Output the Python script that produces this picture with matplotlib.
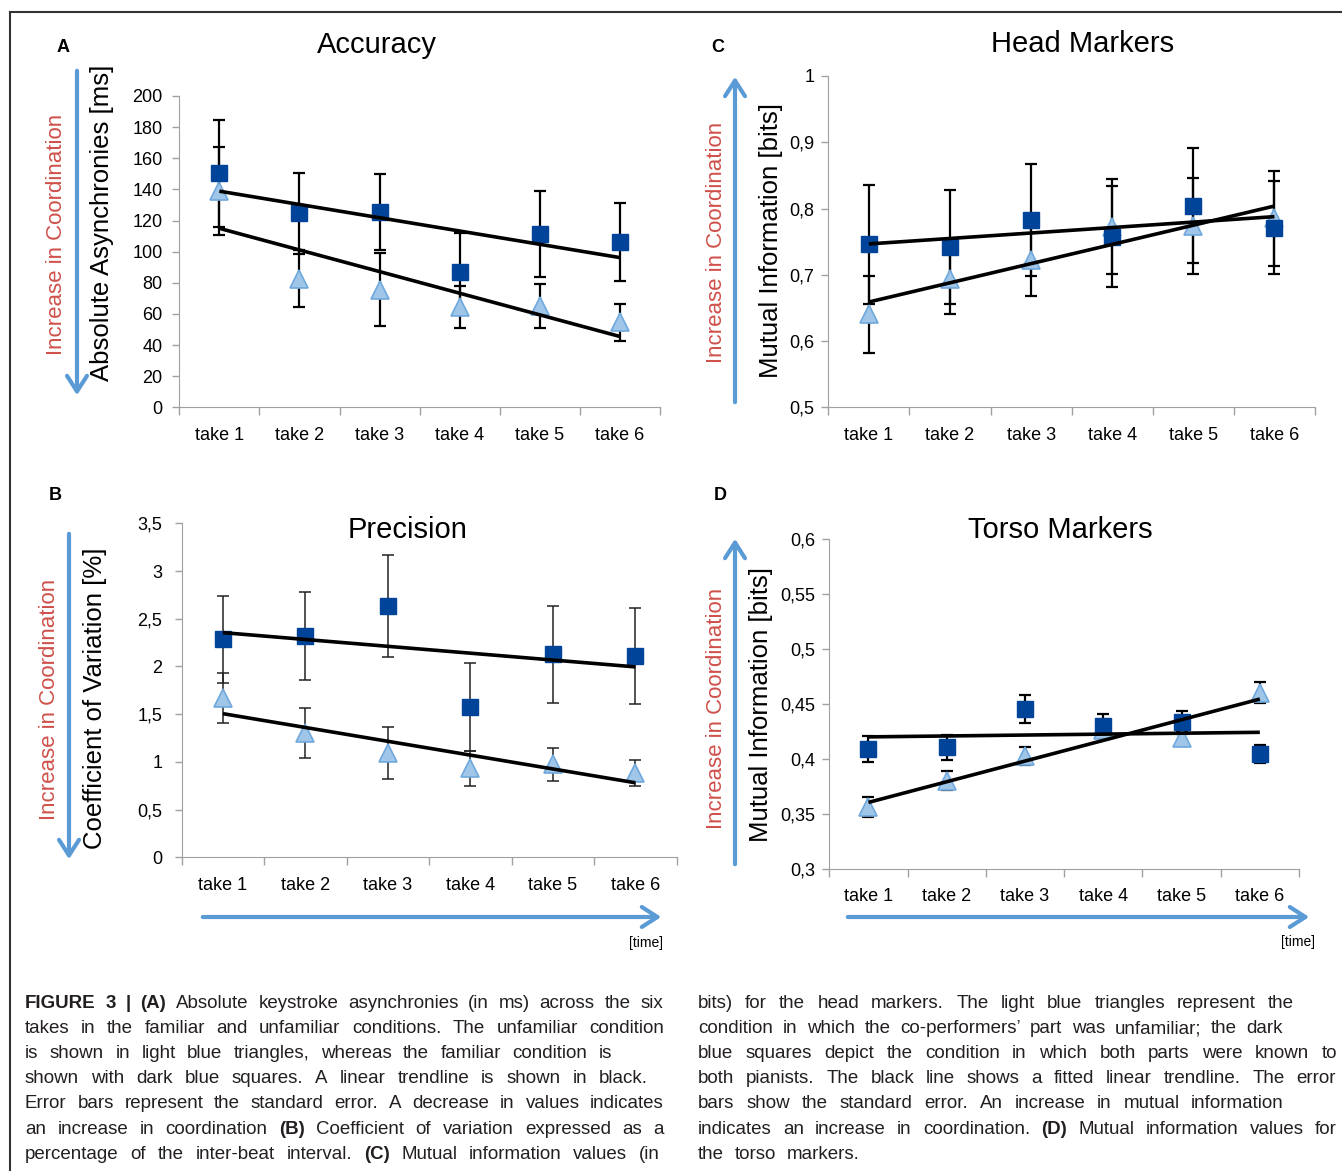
import numpy as np
import matplotlib
matplotlib.use('Agg')
import matplotlib.pyplot as plt
from matplotlib import font_manager
from matplotlib.lines import Line2D
from matplotlib.patches import FancyArrowPatch
from matplotlib.ticker import FuncFormatter

plt.rcParams['font.family'] = ['Liberation Sans', 'DejaVu Sans']

W, H = 1342, 1171

# ---- data ----
takes = ['take 1', 'take 2', 'take 3', 'take 4', 'take 5', 'take 6']

# A: absolute asynchronies [ms]
acc_fam = [150.4, 124.7, 125.4, 86.9, 111.3, 106.4]
acc_fam_err = [34.5, 26.0, 24.6, 25.0, 27.6, 25.0]
acc_unf = [139.0, 82.7, 75.6, 64.5, 65.1, 54.5]
acc_unf_err = [28.5, 18.5, 23.5, 13.7, 14.2, 11.7]

# B: coefficient of variation [%]
prec_fam = [2.285, 2.32, 2.634, 1.572, 2.128, 2.11]
prec_fam_err = [0.457, 0.458, 0.535, 0.46, 0.506, 0.507]
prec_unf = [1.67, 1.303, 1.092, 0.934, 0.974, 0.885]
prec_unf_err = [0.265, 0.265, 0.271, 0.183, 0.175, 0.135]

# C: mutual information, head markers [bits]
head_fam = [0.746, 0.7415, 0.7827, 0.7575, 0.8043, 0.771]
head_fam_err = [0.0895, 0.086, 0.084, 0.0765, 0.087, 0.070]
head_unf = [0.6405, 0.6936, 0.7223, 0.7726, 0.774, 0.785]
head_unf_err = [0.058, 0.053, 0.055, 0.072, 0.0725, 0.072]

# D: mutual information, torso markers [bits]
torso_fam = [0.4092, 0.4107, 0.4456, 0.4304, 0.4335, 0.4044]
torso_fam_err = [0.012, 0.0115, 0.0124, 0.0106, 0.0106, 0.008]
torso_unf = [0.3567, 0.3803, 0.4028, 0.4265, 0.419, 0.4604]
torso_unf_err = [0.009, 0.0086, 0.0082, 0.006, 0.0068, 0.0095]

# colours
SQ = '#00449a'
TRI_FACE = '#9fc5e8'
TRI_EDGE = '#6fa8dc'
ARROW = '#5b9bd5'
RED = '#cf504a'
SPINE = '#a0a0a0'

fig = plt.figure(figsize=(W / 100, H / 100), dpi=100)


def px(x, y):
    return x / W, 1 - y / H


def add_axes(l, t, r, b):
    return fig.add_axes([l / W, 1 - b / H, (r - l) / W, (b - t) / H])


def comma(v, pos):
    return ('%g' % round(v, 4)).replace('.', ',')


def panel(ax, fam, fam_err, unf, unf_err, ylim, ystep, err_lw, err_col, ms_sq, ms_tri, ypad):
    x = np.arange(1, 7)
    ax.errorbar(x, unf, yerr=unf_err, fmt='none', ecolor=err_col, elinewidth=err_lw,
                capsize=4, capthick=err_lw, zorder=2)
    ax.errorbar(x, fam, yerr=fam_err, fmt='none', ecolor=err_col, elinewidth=err_lw,
                capsize=4, capthick=err_lw, zorder=2)
    ax.plot(x, unf, ls='none', marker='^', ms=ms_tri, mfc=TRI_FACE, mec=TRI_EDGE, mew=1.2, zorder=3)
    ax.plot(x, fam, ls='none', marker='s', ms=ms_sq, mfc=SQ, mec=SQ, zorder=4)
    # linear trendlines
    for y in (fam, unf):
        k, c = np.polyfit(x, y, 1)
        ax.plot([1, 6], [k + c, 6 * k + c], color='black', lw=2.6, zorder=5, solid_capstyle='butt')
    ax.set_xlim(0.5, 6.5)
    ax.set_ylim(*ylim)
    ax.set_yticks(np.arange(ylim[0], ylim[1] + ystep / 2, ystep))
    ax.yaxis.set_major_formatter(FuncFormatter(comma))
    ax.set_xticks(np.arange(0.5, 7, 1))
    ax.set_xticklabels([])
    ax.set_xticks(x, minor=True)
    ax.set_xticklabels(takes, minor=True)
    ax.tick_params(axis='x', which='major', length=6, color=SPINE, width=1)
    ax.tick_params(axis='x', which='minor', length=0, pad=14, labelsize=13)
    ax.tick_params(axis='y', length=5, color=SPINE, width=1, pad=ypad, labelsize=13)
    for s in ('top', 'right'):
        ax.spines[s].set_visible(False)
    for s in ('left', 'bottom'):
        ax.spines[s].set_color(SPINE)
    ax.patch.set_alpha(0)


def arrow(x0, y0, x1, y1):
    fig.add_artist(FancyArrowPatch(px(x0, y0), px(x1, y1), transform=fig.transFigure,
                                   arrowstyle='->,head_length=0.7,head_width=0.45',
                                   mutation_scale=16, lw=3, color=ARROW))


def vtext(x, y, s, **kw):
    fig.text(*px(x, y), s, rotation=90, ha='center', va='center', **kw)


# ---- panel A ----
axA = add_axes(179.3, 96, 660, 407.3)
panel(axA, acc_fam, acc_fam_err, acc_unf, acc_unf_err, (0, 200), 20, 1.6, 'black', 11, 13, 7)
fig.text(*px(377, 45), 'Accuracy', ha='center', va='center', fontsize=21)
fig.text(*px(63, 48), 'A', ha='center', va='center', fontsize=13, fontweight='bold')
vtext(102, 223, 'Absolute Asynchronies [ms]', fontsize=18.5)
vtext(57, 234, 'Increase in Coordination', fontsize=16, color=RED)
arrow(77, 68, 77, 398)

# ---- panel B ----
axB = add_axes(181.7, 523.3, 676.7, 857.3)
panel(axB, prec_fam, prec_fam_err, prec_unf, prec_unf_err, (0, 3.5), 0.5, 1.1, '#222222', 11, 13, 9)
fig.text(*px(408, 530), 'Precision', ha='center', va='center', fontsize=21)
fig.text(*px(55, 495), 'B', ha='center', va='center', fontsize=13, fontweight='bold')
vtext(95, 698, 'Coefficient of Variation [%]', fontsize=18.5)
vtext(50, 699, 'Increase in Coordination', fontsize=16, color=RED)
arrow(69, 531, 69, 862)
arrow(200, 917, 664, 917)
fig.text(*px(663, 943), '[time]', ha='right', va='center', fontsize=10)

# ---- panel C ----
axC = add_axes(828.3, 76, 1315, 407.3)
panel(axC, head_fam, head_fam_err, head_unf, head_unf_err, (0.5, 1.0), 0.1, 1.6, 'black', 11, 13, 5)
fig.text(*px(1083, 44), 'Head Markers', ha='center', va='center', fontsize=21)
fig.text(*px(718, 48), 'C', ha='center', va='center', fontsize=13, fontweight='bold')
vtext(771, 241, 'Mutual Information [bits]', fontsize=18.5)
vtext(716, 242, 'Increase in Coordination', fontsize=16, color=RED)
arrow(735, 405, 735, 74)

# ---- panel D ----
axD = add_axes(829.3, 539.3, 1299, 869)
panel(axD, torso_fam, torso_fam_err, torso_unf, torso_unf_err, (0.3, 0.6), 0.05, 1.6, 'black', 11, 13, 5)
fig.text(*px(1060, 530), 'Torso Markers', ha='center', va='center', fontsize=21)
fig.text(*px(720, 495), 'D', ha='center', va='center', fontsize=13, fontweight='bold')
vtext(761, 704, 'Mutual Information [bits]', fontsize=18.5)
vtext(716, 708, 'Increase in Coordination', fontsize=16, color=RED)
arrow(735, 867, 735, 536)
arrow(845, 917, 1312, 917)
fig.text(*px(1315, 942), '[time]', ha='right', va='center', fontsize=10)

# ---- frame ----
fig.add_artist(Line2D([10 / W, 1], [1 - 12 / H] * 2, transform=fig.transFigure, color='#333333', lw=1.5))
fig.add_artist(Line2D([10 / W] * 2, [0, 1 - 12 / H], transform=fig.transFigure, color='#333333', lw=1.5))

# ---- caption (justified lines) ----
names = {f.name for f in font_manager.fontManager.ttflist}
cap_font = 'Liberation Sans Narrow' if 'Liberation Sans Narrow' in names else 'Liberation Sans'
cap_size = 15.5 if cap_font == 'Liberation Sans Narrow' else 13.5

left_lines = [
    ("**FIGURE 3 | (A)** Absolute keystroke asynchronies (in ms) across the six", 663),
    ("takes in the familiar and unfamiliar conditions. The unfamiliar condition", 664),
    ("is shown in light blue triangles, whereas the familiar condition is", 612),
    ("shown with dark blue squares. A linear trendline is shown in black.", 648),
    ("Error bars represent the standard error. A decrease in values indicates", 664),
    ("an increase in coordination **(B)** Coefficient of variation expressed as a", 664),
    ("percentage of the inter-beat interval. **(C)** Mutual information values (in", 660),
]
right_lines = [
    ("bits) for the head markers. The light blue triangles represent the", 1294),
    ("condition in which the co-performers\u2019 part was unfamiliar; the dark", 1283),
    ("blue squares depict the condition in which both parts were known to", 1337),
    ("both pianists. The black line shows a fitted linear trendline. The error", 1336),
    ("bars show the standard error. An increase in mutual information", 1284),
    ("indicates an increase in coordination. **(D)** Mutual information values for", 1337),
    ("the torso markers.", 860),
]
line_y = [1008, 1033, 1058, 1083, 1108, 1134, 1159]  # baselines

renderer = fig.canvas.get_renderer()


def words_of(line):
    out = []
    for i, seg in enumerate(line.split('**')):
        for w in seg.split():
            out.append((w, i % 2 == 1))
    return out


def draw_line(line, x0, x1, yb):
    items = []
    for w, bold in words_of(line):
        t = fig.text(0, 0, w, fontsize=cap_size, family=[cap_font, 'DejaVu Sans'],
                     fontweight='bold' if bold else 'normal', color='#231f20',
                     ha='left', va='baseline')
        items.append((t, t.get_window_extent(renderer).width))
    total = sum(wd for _, wd in items)
    gap = max((x1 - x0 - total) / max(len(items) - 1, 1), 3)
    x = x0
    for t, wd in items:
        t.set_position(px(x, yb))
        x += wd + gap


for (s, r), y in zip(left_lines, line_y):
    draw_line(s, 25, r, y)
for (s, r), y in zip(right_lines, line_y):
    draw_line(s, 698, r, y)

fig.savefig('out.png', dpi=100)
